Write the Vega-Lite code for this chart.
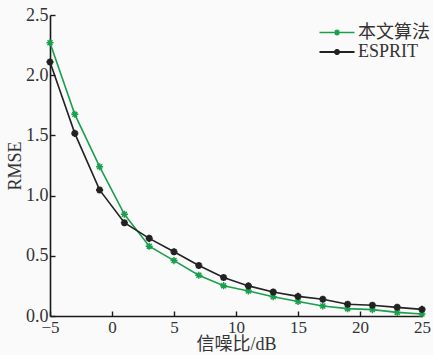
{
  "$schema": "https://vega.github.io/schema/vega-lite/v6.json",
  "width": 372,
  "height": 301,
  "autosize": {"type": "none"},
  "padding": {"left": 50, "top": 15, "right": 11, "bottom": 39},
  "background": "#fafafa",
  "config": {
    "view": {"stroke": null},
    "font": "Liberation Serif, Noto Sans CJK SC",
    "axis": {
      "grid": false,
      "domainColor": "#1a1a1a",
      "domainWidth": 1.6,
      "tickColor": "#1a1a1a",
      "tickWidth": 1.4,
      "tickSize": -5,
      "labelFont": "Liberation Serif",
      "labelFontSize": 18,
      "labelColor": "#333",
      "titleFont": "Liberation Serif, Noto Sans CJK SC",
      "titleFontSize": 18,
      "titleFontWeight": "normal",
      "titleColor": "#333"
    }
  },
  "data": {
    "values": [
      {"snr": -5, "series": "本文算法", "rmse": 2.27},
      {"snr": -3, "series": "本文算法", "rmse": 1.675},
      {"snr": -1, "series": "本文算法", "rmse": 1.24},
      {"snr": 1, "series": "本文算法", "rmse": 0.845},
      {"snr": 3, "series": "本文算法", "rmse": 0.58},
      {"snr": 5, "series": "本文算法", "rmse": 0.46},
      {"snr": 7, "series": "本文算法", "rmse": 0.338},
      {"snr": 9, "series": "本文算法", "rmse": 0.252},
      {"snr": 11, "series": "本文算法", "rmse": 0.207},
      {"snr": 13, "series": "本文算法", "rmse": 0.16},
      {"snr": 15, "series": "本文算法", "rmse": 0.12},
      {"snr": 17, "series": "本文算法", "rmse": 0.083},
      {"snr": 19, "series": "本文算法", "rmse": 0.061},
      {"snr": 21, "series": "本文算法", "rmse": 0.053},
      {"snr": 23, "series": "本文算法", "rmse": 0.03},
      {"snr": 25, "series": "本文算法", "rmse": 0.017},
      {"snr": -5, "series": "ESPRIT", "rmse": 2.11},
      {"snr": -3, "series": "ESPRIT", "rmse": 1.517},
      {"snr": -1, "series": "ESPRIT", "rmse": 1.047},
      {"snr": 1, "series": "ESPRIT", "rmse": 0.775},
      {"snr": 3, "series": "ESPRIT", "rmse": 0.645},
      {"snr": 5, "series": "ESPRIT", "rmse": 0.534},
      {"snr": 7, "series": "ESPRIT", "rmse": 0.42},
      {"snr": 9, "series": "ESPRIT", "rmse": 0.32},
      {"snr": 11, "series": "ESPRIT", "rmse": 0.25},
      {"snr": 13, "series": "ESPRIT", "rmse": 0.2},
      {"snr": 15, "series": "ESPRIT", "rmse": 0.163},
      {"snr": 17, "series": "ESPRIT", "rmse": 0.139},
      {"snr": 19, "series": "ESPRIT", "rmse": 0.097},
      {"snr": 21, "series": "ESPRIT", "rmse": 0.089},
      {"snr": 23, "series": "ESPRIT", "rmse": 0.072},
      {"snr": 25, "series": "ESPRIT", "rmse": 0.055}
    ]
  },
  "encoding": {
    "x": {
      "field": "snr", "type": "quantitative",
      "scale": {"domain": [-5, 25], "nice": false, "zero": false},
      "axis": {"title": "信噪比/dB", "values": [-5, 0, 5, 10, 15, 20, 25], "labelFontSize": 17, "labelPadding": 8, "titlePadding": 0, "labelFlush": false}
    },
    "y": {
      "field": "rmse", "type": "quantitative",
      "scale": {"domain": [0, 2.5], "nice": false},
      "axis": {"title": "RMSE", "values": [0, 0.5, 1, 1.5, 2, 2.5], "format": ".1f", "labelPadding": 7, "titlePadding": 1}
    },
    "color": {
      "field": "series", "type": "nominal",
      "scale": {"domain": ["本文算法", "ESPRIT"], "range": ["#1aa04c", "#222222"]},
      "legend": {
        "title": null,
        "orient": "none",
        "legendX": 268,
        "legendY": 8,
        "symbolType": "M-1,0L3.12,0M0.71,0L1.41,0M1.06,-0.35L1.06,0.35M0.81,-0.25L1.31,0.25M0.81,0.25L1.31,-0.25",
        "symbolSize": 289,
        "symbolStrokeWidth": 1.6,
        "symbolFillColor": "transparent",
        "labelFont": "Liberation Serif, Noto Sans CJK SC",
        "labelFontSize": 18,
        "labelColor": "#333",
        "labelOffset": 20,
        "rowPadding": 0
      }
    }
  },
  "layer": [
    {"mark": {"type": "line", "strokeWidth": 1.6}},
    {
      "mark": {"type": "point", "filled": false, "size": 50, "opacity": 1,
        "shape": "M-1,0L1,0M0,-1L0,1M-0.7,-0.7L0.7,0.7M-0.7,0.7L0.7,-0.7"},
      "encoding": {
        "strokeWidth": {"field": "series", "type": "nominal", "scale": {"domain": ["本文算法", "ESPRIT"], "range": [1.5, 2.1]}, "legend": null}
      }
    }
  ]
}
